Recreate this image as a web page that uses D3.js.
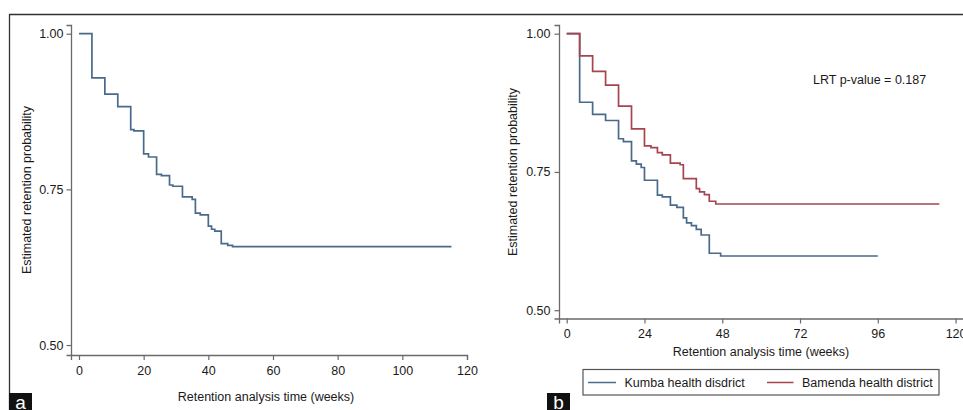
<!DOCTYPE html>
<html><head><meta charset="utf-8">
<script src="https://cdn.jsdelivr.net/npm/d3@7"></script>
<style>
html,body{margin:0;padding:0;background:#fff;}
svg{display:block;font-family:"Liberation Sans",Arial,sans-serif;}
</style></head>
<body>
<script>
// ---- data ----
const timesA = [0,4,8,12,16,17,20,21.5,24,25.5,28,29,32,35,36,37.5,40,41,42,44,46,47.5,115.2];
const survA  = [1.000,0.929,0.903,0.883,0.846,0.844,0.807,0.802,0.774,0.772,0.757,0.755,0.738,0.734,0.712,0.709,0.691,0.686,0.683,0.663,0.660,0.658,0.658];

const timesKumba = [0,4,8,12,16,17.5,20,21.5,23,24,28,29.5,32,34,36,37,38.5,40,41.5,44,47.5,96];
const survKumba  = [1.000,0.876,0.854,0.843,0.810,0.805,0.770,0.764,0.758,0.735,0.708,0.705,0.690,0.686,0.667,0.658,0.653,0.646,0.636,0.603,0.598,0.598];

const timesBamenda = [0,4,8,12,16,20,24,26,28,29.5,32,35,36,40,41,42.5,44,46,115];
const survBamenda  = [1.000,0.960,0.932,0.907,0.869,0.828,0.797,0.794,0.785,0.781,0.766,0.763,0.738,0.720,0.714,0.709,0.697,0.692,0.692];

const yTicks = [0.50, 0.75, 1.00];
const xTicksA = [0,20,40,60,80,100,120];
const xTicksB = [0,24,48,72,96,120];
const seriesNames = ["Kumba health disdrict","Bamenda health district"];
const yTitle = "Estimated retention probability";
const xTitle = "Retention analysis time (weeks)";
const pText = "LRT p-value = 0.187";
const panelLabels = ["a","b"];

// ---- style ----
const BLUE = "#4a6a8b", RED = "#a5464e", AXIS = "#6a6a6a", TXT = "#1a1a1a";
const FS = 12.5;

const svg = d3.select("body").append("svg").attr("width",963).attr("height",410);

// frame
svg.append("line").attr("x1",9).attr("x2",963).attr("y1",14.5).attr("y2",14.5).attr("stroke","#333").attr("stroke-width",1.3);
svg.append("line").attr("x1",9.5).attr("x2",9.5).attr("y1",14).attr("y2",410).attr("stroke","#333").attr("stroke-width",1.3);

function styleAxis(g){
  g.selectAll("path.domain").attr("stroke",AXIS).attr("stroke-width",1.3);
  g.selectAll(".tick line").attr("stroke",AXIS).attr("stroke-width",1.2);
  g.selectAll(".tick text").attr("fill",TXT).style("font-size",FS+"px").style("font-family","'Liberation Sans',Arial,sans-serif");
}

function panel(cfg){
  const x = d3.scaleLinear().domain(cfg.xDom).range(cfg.xRange);
  const y = d3.scaleLinear().domain(cfg.yDom).range(cfg.yRange);
  const gy = svg.append("g").attr("transform",`translate(${cfg.xRange[0]},0)`)
    .call(d3.axisLeft(y).tickValues(yTicks).tickFormat(d3.format(".2f")).tickSizeOuter(0).tickSize(4.5).tickPadding(cfg.yPad));
  styleAxis(gy);
  const gx = svg.append("g").attr("transform",`translate(0,${cfg.yRange[0]})`)
    .call(d3.axisBottom(x).tickValues(cfg.xTicks).tickSizeOuter(0).tickSize(5).tickPadding(2.5));
  styleAxis(gx);
  gx.selectAll(".tick text").attr("dy","0.97em");
  const line = d3.line().x(d=>x(d[0])).y(d=>y(d[1])).curve(d3.curveStepAfter);
  cfg.series.forEach(s=>{
    svg.append("path").datum(d3.zip(s.t,s.v)).attr("d",line)
      .attr("fill","none").attr("stroke",s.color).attr("stroke-width",1.7);
  });
  svg.append("text").attr("transform",`translate(${cfg.yTitleX},${cfg.yTitleY}) rotate(-90)`)
    .attr("text-anchor","middle").attr("dominant-baseline","central")
    .style("font-size",FS+"px").attr("fill",TXT).text(yTitle);
  svg.append("text").attr("x",cfg.xTitleX).attr("y",cfg.xTitleY)
    .attr("text-anchor","middle").attr("dominant-baseline","central")
    .style("font-size",FS+"px").attr("fill",TXT).text(xTitle);
  return {x,y};
}

// panel a
panel({
  xDom:[-2.47,120], xRange:[71,467],
  yDom:[0.484,1.014], yRange:[355,25],
  xTicks:xTicksA, yPad:3,
  series:[{t:timesA,v:survA,color:BLUE}],
  yTitleX:27, yTitleY:190, xTitleX:266, xTitleY:396.5
});

// panel b
panel({
  xDom:[-2.375,122.6], xRange:[559,964],
  yDom:[0.485,1.0157], yRange:[318.5,25],
  xTicks:xTicksB, yPad:4,
  series:[{t:timesKumba,v:survKumba,color:BLUE},{t:timesBamenda,v:survBamenda,color:RED}],
  yTitleX:513, yTitleY:172, xTitleX:761, xTitleY:351.5
});

// p-value text
svg.append("text").attr("x",813).attr("y",80).attr("dominant-baseline","central")
  .style("font-size",FS+"px").attr("fill",TXT).text(pText);

// legend
const lg = svg.append("g");
lg.append("rect").attr("x",583).attr("y",369.5).attr("width",356).attr("height",25.5)
  .attr("fill","#fff").attr("stroke","#555").attr("stroke-width",1.2);
const legItems = [{x1:588,x2:616,tx:624.5,color:BLUE},{x1:767,x2:793.5,tx:802,color:RED}];
legItems.forEach((d,i)=>{
  lg.append("line").attr("x1",d.x1).attr("x2",d.x2).attr("y1",382.5).attr("y2",382.5)
    .attr("stroke",d.color).attr("stroke-width",1.5);
  lg.append("text").attr("x",d.tx).attr("y",382.5).attr("dominant-baseline","central")
    .style("font-size",FS+"px").attr("fill",TXT).text(seriesNames[i]);
});

// panel letters
[{x:9,i:0},{x:547,i:1}].forEach(p=>{
  svg.append("rect").attr("x",p.x).attr("y",393).attr("width",23).attr("height",17).attr("fill","#111");
  svg.append("text").attr("x",p.x+11.5).attr("y",408.5).attr("text-anchor","middle")
    .style("font-size","19px").attr("fill","#fff").text(panelLabels[p.i]);
});
</script>
</body></html>
